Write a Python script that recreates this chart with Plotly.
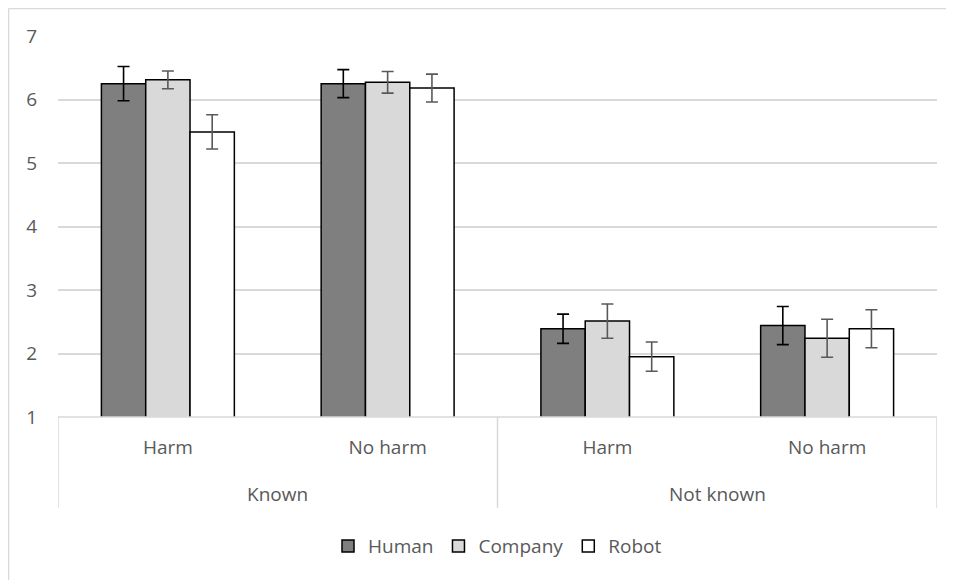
import plotly.graph_objects as go

# Data
group_labels = ["Known", "Not known"]
harm_labels = ["Harm", "No harm", "Harm", "No harm"]
x_pos = [0, 1, 2, 3]

human = [6.25, 6.25, 2.39, 2.44]
human_err = [0.27, 0.22, 0.23, 0.30]
company = [6.31, 6.27, 2.51, 2.24]
company_err = [0.14, 0.17, 0.27, 0.30]
robot = [5.49, 6.18, 1.95, 2.39]
robot_err = [0.27, 0.22, 0.23, 0.30]

y_ticks = [1, 2, 3, 4, 5, 6, 7]

FONT = "Open Sans"
TXT = "#595959"
GRID = "#d9d9d9"

fig = go.Figure()
series = [
    ("Human", human, human_err, "#7f7f7f", "#000000"),
    ("Company", company, company_err, "#d9d9d9", "#595959"),
    ("Robot", robot, robot_err, "#ffffff", "#595959"),
]
for name, vals, errs, fill, ecol in series:
    fig.add_trace(go.Bar(
        name=name, x=x_pos, y=vals,
        marker=dict(color=fill, line=dict(color="#000000", width=1.5)),
        error_y=dict(type="data", array=errs, visible=True, color=ecol,
                     thickness=1.6, width=6),
    ))

shapes = []
# category box lines
shapes.append(dict(type="line", xref="x", yref="paper", x0=-0.5, x1=3.5, y0=0, y1=0,
                   line=dict(color=GRID, width=1.5)))
for xv in [-0.5, 1.5, 3.5]:
    shapes.append(dict(type="line", xref="x", yref="paper", x0=xv, x1=xv, y0=0, y1=-0.239,
                       line=dict(color=GRID, width=1.5)))
# chart area border
shapes.append(dict(type="line", xref="paper", yref="paper", x0=-0.0563, x1=-0.0563,
                   y0=1.0722, y1=-0.6, line=dict(color=GRID, width=1.5)))
shapes.append(dict(type="line", xref="paper", yref="paper", x0=-0.0563, x1=1.1,
                   y0=1.0722, y1=1.0722, line=dict(color=GRID, width=1.5)))

annotations = []
for i, g in enumerate(group_labels):
    annotations.append(dict(text=g, xref="x", yref="paper", x=0.5 + 2 * i, y=-0.202,
                            xanchor="center", yanchor="middle", showarrow=False,
                            font=dict(family=FONT, size=19, color=TXT)))

fig.update_layout(
    width=954, height=580,
    margin=dict(l=50, r=25, t=28, b=171),
    paper_bgcolor="white", plot_bgcolor="white",
    barmode="group", bargap=0.395, bargroupgap=0,
    font=dict(family=FONT, size=19, color=TXT),
    showlegend=True,
    legend=dict(orientation="h", x=0.5, xanchor="center", y=-0.339, yanchor="middle",
                font=dict(family=FONT, size=19, color=TXT), itemwidth=30,
                traceorder="normal"),
    shapes=shapes,
    annotations=annotations,
    xaxis=dict(range=[-0.5, 3.5], tickvals=x_pos, ticktext=harm_labels,
               showgrid=False, zeroline=False, showline=False, ticks="",
               ticklabelstandoff=17, tickfont=dict(family=FONT, size=19, color=TXT)),
    yaxis=dict(range=[1, 7], tickvals=y_ticks, showgrid=True, gridcolor=GRID,
               gridwidth=1.5, zeroline=False, showline=False, ticks="",
               ticklabelstandoff=20, tickfont=dict(family=FONT, size=19, color=TXT)),
)

fig.write_html("out.html")
